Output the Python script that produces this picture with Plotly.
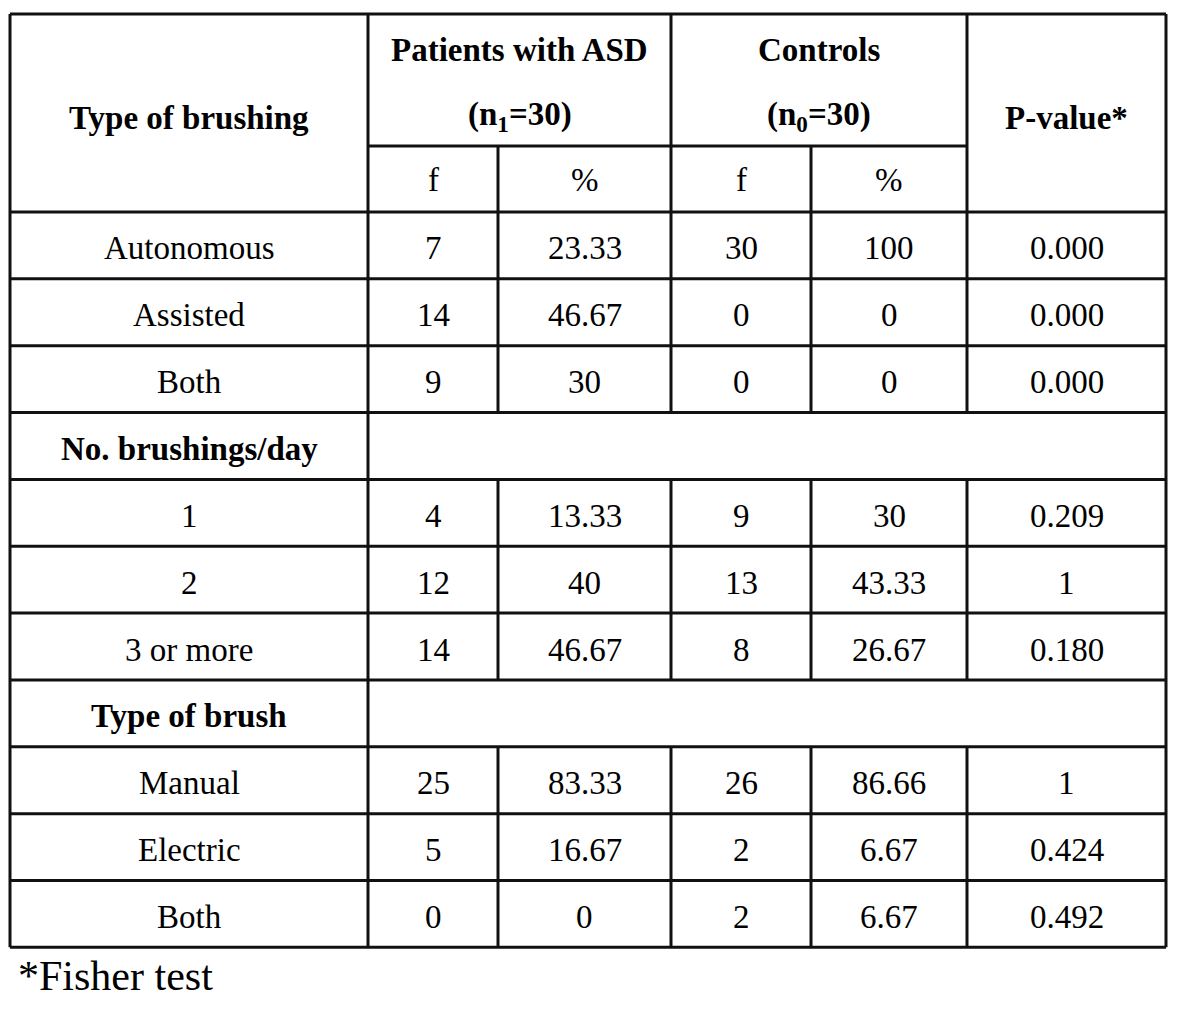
import plotly.graph_objects as go

# ---- data ----
row_labels = ["Autonomous", "Assisted", "Both", "No. brushings/day", "1", "2",
              "3 or more", "Type of brush", "Manual", "Electric", "Both"]
section_rows = [False, False, False, True, False, False, False, True, False, False, False]
asd_f = ["7", "14", "9", "", "4", "12", "14", "", "25", "5", "0"]
asd_pct = ["23.33", "46.67", "30", "", "13.33", "40", "46.67", "", "83.33", "16.67", "0"]
ctrl_f = ["30", "0", "0", "", "9", "13", "8", "", "26", "2", "2"]
ctrl_pct = ["100", "0", "0", "", "30", "43.33", "26.67", "", "86.66", "6.67", "6.67"]
p_values = ["0.000", "0.000", "0.000", "", "0.209", "1", "0.180", "", "1", "0.424", "0.492"]

header_first = "Type of brushing"
group_titles = ["Patients with ASD", "Controls"]
group_sizes = ["(n<sub>1</sub>=30)", "(n<sub>0</sub>=30)"]
sub_headers = ["f", "%", "f", "%"]
p_header = "P-value*"
footnote = "*Fisher test"

# ---- geometry (page pixels; the page body has an 8px margin) ----
W, H = 1200, 1013
PAD = 8
col_x = [10, 368, 498, 671, 811, 967, 1166]
y_top, y_mid, y_body = 14, 146, 212
row_h = 66.85
n_rows = len(row_labels)
row_y = [y_body + i * row_h for i in range(n_rows + 1)]

FONT = "Liberation Serif"
FS = 33
LW = 3
LC = "#111111"

fig = go.Figure()
shapes = []
ann = []


def hline(x0, x1, y, w=LW):
    shapes.append(dict(type="line", x0=x0, x1=x1, y0=y, y1=y, xref="x", yref="y",
                       line=dict(color=LC, width=w)))


def vline(x, y0, y1, w=LW):
    shapes.append(dict(type="line", x0=x, x1=x, y0=y0, y1=y1, xref="x", yref="y",
                       line=dict(color=LC, width=w)))


def text(x, y, s, bold=False, size=FS, xanchor="center"):
    ann.append(dict(x=x, y=y, xref="x", yref="y", text=("<b>%s</b>" % s) if bold else s,
                    showarrow=False, xanchor=xanchor, yanchor="middle",
                    font=dict(family=FONT, size=size, color="#000000")))


# outer border
hline(col_x[0], col_x[-1], y_top)
hline(col_x[0], col_x[-1], row_y[-1])
vline(col_x[0], y_top, row_y[-1])
vline(col_x[-1], y_top, row_y[-1])

# header lines
hline(col_x[1], col_x[5], y_mid)
vline(col_x[1], y_top, row_y[-1])
vline(col_x[3], y_top, y_body)
vline(col_x[5], y_top, y_body)
vline(col_x[2], y_mid, y_body)
vline(col_x[4], y_mid, y_body)

# body row lines
for i in range(n_rows):
    hline(col_x[0], col_x[-1], row_y[i])

# body vertical lines (skip section rows)
for i in range(n_rows):
    if section_rows[i]:
        continue
    for cx in col_x[2:6]:
        vline(cx, row_y[i], row_y[i + 1])

# header text
text((col_x[0] + col_x[1]) / 2, 118, header_first, bold=True)
for g in range(2):
    cx = (col_x[1 + 2 * g] + col_x[3 + 2 * g]) / 2
    text(cx, 50, group_titles[g], bold=True)
    text(cx, 116, group_sizes[g], bold=True)
for k in range(4):
    text((col_x[1 + k] + col_x[2 + k]) / 2, 180, sub_headers[k])
text((col_x[5] + col_x[6]) / 2, 118, p_header, bold=True)

# body text
cols = [asd_f, asd_pct, ctrl_f, ctrl_pct, p_values]
for i in range(n_rows):
    cy = (row_y[i] + row_y[i + 1]) / 2 + 3
    text((col_x[0] + col_x[1]) / 2, cy, row_labels[i], bold=section_rows[i])
    if section_rows[i]:
        continue
    for k, c in enumerate(cols):
        text((col_x[1 + k] + col_x[2 + k]) / 2, cy, c[i])

# footnote
text(16, 976, footnote, size=42, xanchor="left")

fig.update_layout(
    width=W - PAD, height=H - PAD, margin=dict(l=0, r=0, t=0, b=0),
    paper_bgcolor="white", plot_bgcolor="white",
    xaxis=dict(range=[PAD, W], visible=False, fixedrange=True),
    yaxis=dict(range=[H, PAD], visible=False, fixedrange=True),
    shapes=shapes, annotations=ann, showlegend=False,
)
fig.write_html("out.html")
